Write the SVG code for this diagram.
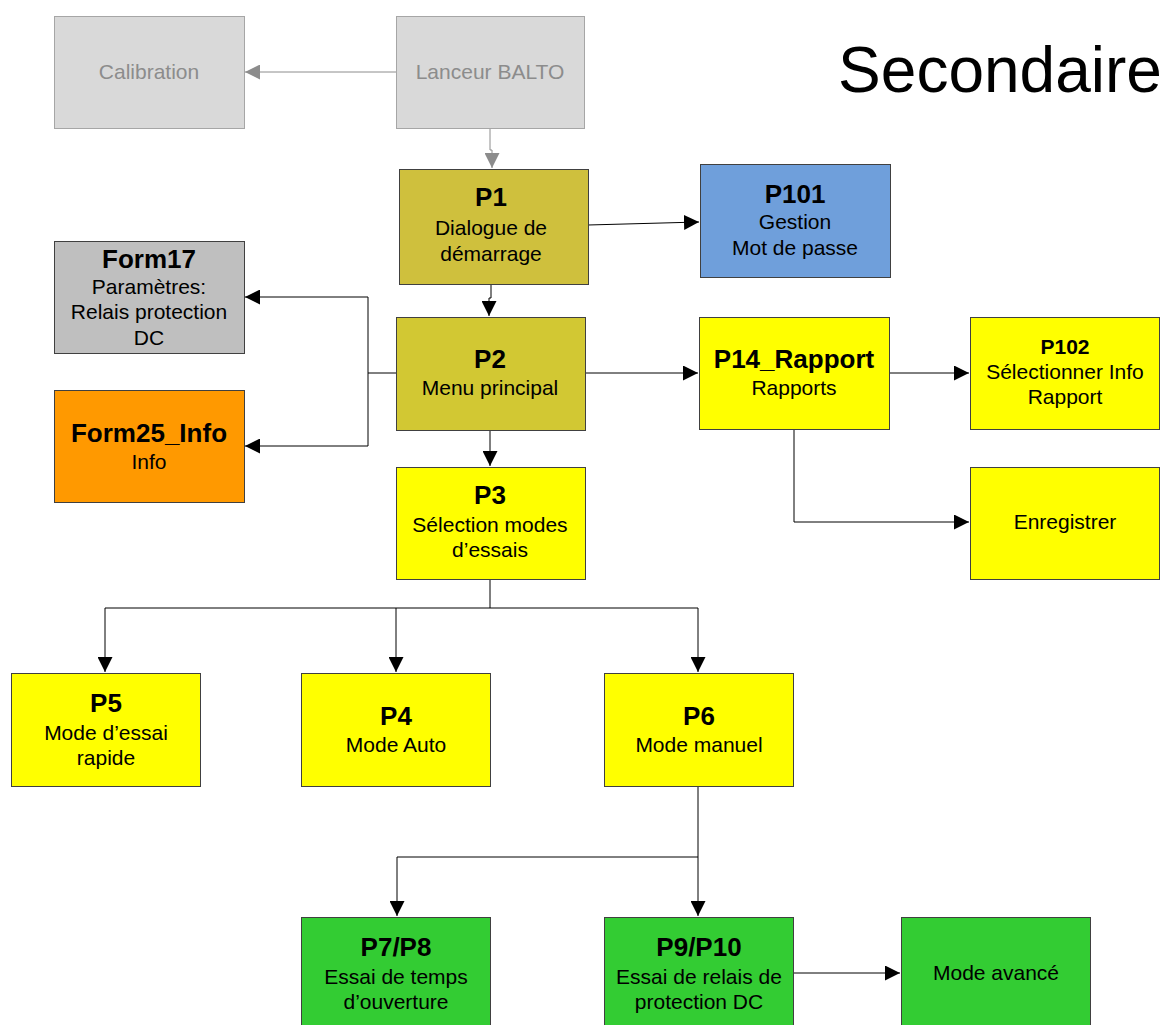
<svg xmlns="http://www.w3.org/2000/svg" width="1160" height="1025" viewBox="0 0 1160 1025">
<defs>
<style>
text{font-family:"Liberation Sans",Arial,sans-serif;text-anchor:middle;fill:#000}
.t{font-size:21px}
.b{font-size:26px;font-weight:bold}
.g text{fill:#8c8c8c}
.n rect{stroke:#404040;stroke-width:1}
.c{fill:none;stroke:#000;stroke-width:1}
.cg{fill:none;stroke:#8c8c8c;stroke-width:1}
</style>
<marker id="a" viewBox="0 0 10 10" refX="10" refY="5" markerWidth="15" markerHeight="15" markerUnits="userSpaceOnUse" orient="auto"><path d="M0,0L10,5L0,10z" fill="#000"/></marker>
<marker id="ag" viewBox="0 0 10 10" refX="10" refY="5" markerWidth="15" markerHeight="15" markerUnits="userSpaceOnUse" orient="auto"><path d="M0,0L10,5L0,10z" fill="#8c8c8c"/></marker>
</defs>
<rect width="1160" height="1025" fill="#fff"/>
<text x="1000" y="92" style="font-size:64px">Secondaire</text>

<g id="connectors">
<path class="cg" d="M396,72H245" marker-end="url(#ag)"/>
<path class="cg" d="M490,128V150H492V168" marker-end="url(#ag)"/>
<path class="c" d="M588,225L699,222" marker-end="url(#a)"/>
<path class="c" d="M491,284V298H489V316" marker-end="url(#a)"/>
<path class="c" d="M396,373H368V297H245" marker-end="url(#a)"/>
<path class="c" d="M368,373V446H245" marker-end="url(#a)"/>
<path class="c" d="M585,373H698" marker-end="url(#a)"/>
<path class="c" d="M889,373H969" marker-end="url(#a)"/>
<path class="c" d="M794,429V522H969" marker-end="url(#a)"/>
<path class="c" d="M490,430V466" marker-end="url(#a)"/>
<path class="c" d="M490,579V608H105V672" marker-end="url(#a)"/>
<path class="c" d="M396,608V672" marker-end="url(#a)"/>
<path class="c" d="M490,608H698V672" marker-end="url(#a)"/>
<path class="c" d="M698,786V857H397V916" marker-end="url(#a)"/>
<path class="c" d="M698,857V916" marker-end="url(#a)"/>
<path class="c" d="M793,973H900" marker-end="url(#a)"/>
</g>

<g id="calibration" class="g"><rect x="54.5" y="16.5" width="190" height="112" fill="#d9d9d9" stroke="#a6a6a6"/><text class="t" x="149" y="79">Calibration</text></g>
<g id="lanceur" class="g"><rect x="396.5" y="16.5" width="188" height="112" fill="#d9d9d9" stroke="#a6a6a6"/><text class="t" x="490" y="79">Lanceur BALTO</text></g>

<g id="p1" class="n"><rect x="399.5" y="169.5" width="189" height="115" fill="#cfc03d"/><text class="b" x="491" y="206">P1</text><text class="t" x="491" y="235">Dialogue de</text><text class="t" x="491" y="261">démarrage</text></g>
<g id="p101" class="n"><rect x="700.5" y="164.5" width="190" height="113" fill="#6f9fdb"/><text class="b" x="795" y="203">P101</text><text class="t" x="795" y="229">Gestion</text><text class="t" x="795" y="255">Mot de passe</text></g>
<g id="form17" class="n"><rect x="54.5" y="241.5" width="190" height="112" fill="#bfbfbf"/><text class="b" x="149" y="268">Form17</text><text class="t" x="149" y="294">Paramètres:</text><text class="t" x="149" y="319">Relais protection</text><text class="t" x="149" y="345">DC</text></g>
<g id="p2" class="n"><rect x="396.5" y="317.5" width="189" height="113" fill="#d2c833"/><text class="b" x="490" y="368">P2</text><text class="t" x="490" y="395">Menu principal</text></g>
<g id="form25" class="n"><rect x="54.5" y="390.5" width="190" height="112" fill="#ff9900"/><text class="b" x="149" y="442">Form25_Info</text><text class="t" x="149" y="469">Info</text></g>
<g id="p14" class="n"><rect x="699.5" y="317.5" width="190" height="112" fill="#ffff00"/><text class="b" x="794" y="368">P14_Rapport</text><text class="t" x="794" y="395">Rapports</text></g>
<g id="p102" class="n"><rect x="970.5" y="317.5" width="189" height="112" fill="#ffff00"/><text x="1065" y="354" style="font-size:21px;font-weight:bold">P102</text><text class="t" x="1065" y="379">Sélectionner Info</text><text class="t" x="1065" y="404">Rapport</text></g>
<g id="enregistrer" class="n"><rect x="970.5" y="467.5" width="189" height="112" fill="#ffff00"/><text class="t" x="1065" y="529">Enregistrer</text></g>
<g id="p3" class="n"><rect x="396.5" y="467.5" width="189" height="112" fill="#ffff00"/><text class="b" x="490" y="504">P3</text><text class="t" x="490" y="532">Sélection modes</text><text class="t" x="490" y="557">d’essais</text></g>
<g id="p5" class="n"><rect x="11.5" y="673.5" width="189" height="113" fill="#ffff00"/><text class="b" x="106" y="712">P5</text><text class="t" x="106" y="740">Mode d’essai</text><text class="t" x="106" y="765">rapide</text></g>
<g id="p4" class="n"><rect x="301.5" y="673.5" width="189" height="113" fill="#ffff00"/><text class="b" x="396" y="725">P4</text><text class="t" x="396" y="752">Mode Auto</text></g>
<g id="p6" class="n"><rect x="604.5" y="673.5" width="189" height="113" fill="#ffff00"/><text class="b" x="699" y="725">P6</text><text class="t" x="699" y="752">Mode manuel</text></g>
<g id="p7p8" class="n"><rect x="301.5" y="917.5" width="189" height="115" fill="#33cc33"/><text class="b" x="396" y="956">P7/P8</text><text class="t" x="396" y="984">Essai de temps</text><text class="t" x="396" y="1009">d’ouverture</text></g>
<g id="p9p10" class="n"><rect x="604.5" y="917.5" width="189" height="115" fill="#33cc33"/><text class="b" x="699" y="956">P9/P10</text><text class="t" x="699" y="984">Essai de relais de</text><text class="t" x="699" y="1009">protection DC</text></g>
<g id="avance" class="n"><rect x="901.5" y="917.5" width="189" height="115" fill="#33cc33"/><text class="t" x="996" y="980">Mode avancé</text></g>
</svg>
